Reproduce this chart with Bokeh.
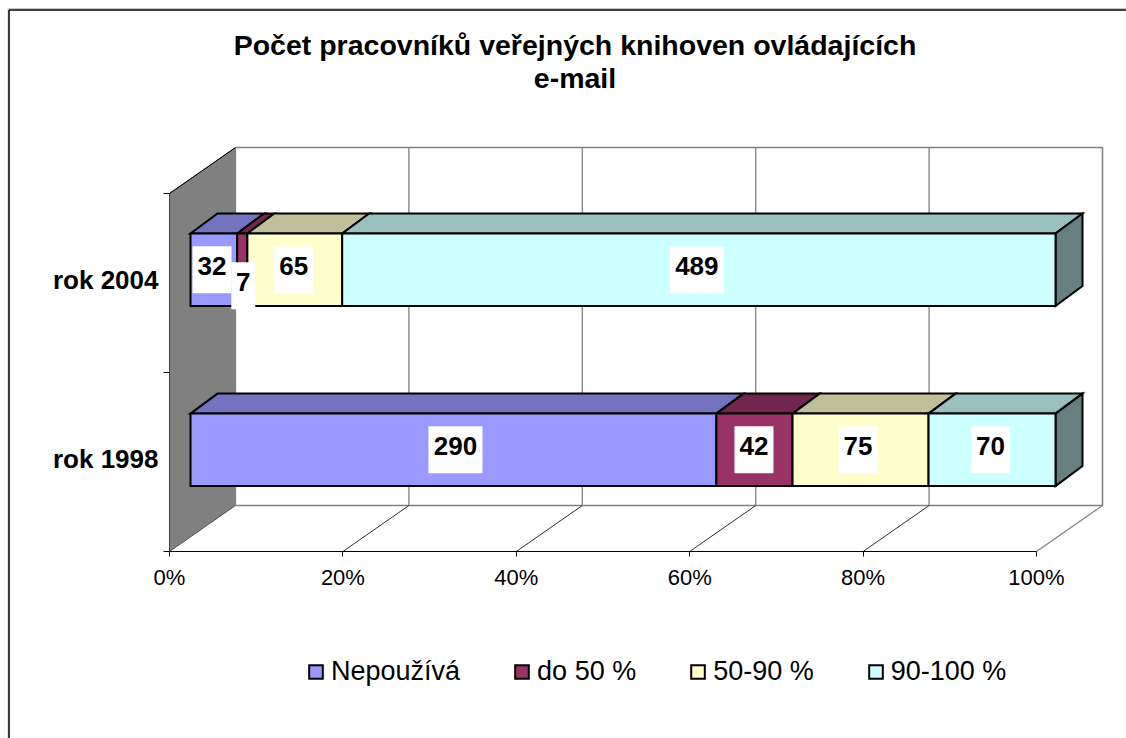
from bokeh.plotting import figure
from bokeh.models import LinearAxis, FixedTicker, Legend, LegendItem, ColumnDataSource
from bokeh.core.properties import value
from bokeh.embed import file_html
from bokeh.resources import INLINE
import numpy as np

# ---- data ----
categories = ["rok 1998", "rok 2004"]
series_names = ["Nepoužívá", "do 50 %", "50-90 %", "90-100 %"]
nepouziva = [290, 32]
do_50 = [42, 7]
p50_90 = [75, 65]
p90_100 = [70, 489]
x_ticks = [0, 20, 40, 60, 80, 100]
title_lines = ["Počet pracovníků veřejných knihoven ovládajících", "e-mail"]

front_colors = ["#9999FF", "#993366", "#FFFFCC", "#CCFFFF"]
top_colors = ["#7373BF", "#73264D", "#BFBF99", "#99BFBF"]
side_color = "#668080"
FONT = "Liberation Sans"

# ---- layout (screen scale) ----
W, H = 1126, 738
PX = 8.67     # px per percent
PY = 179.0    # px per category band
X0, Y0 = 169, 551   # frame px of (0 %, floor front)
WALL_DX, WALL_DY = 66 / PX, 46 / PY
BAR_DX, BAR_DY = 27 / PX, 20 / PY
BAR_X0, BAR_SCALE = 21 / PX, 865 / 867
BAR_H = 72.5 / PY
CENTERS = [0.568, 1.574]

def px_x(v): return (v - X0) / PX
def px_y(v): return (Y0 - v) / PY

p = figure(width=W, height=H, output_backend="svg", toolbar_location=None,
           x_axis_type=None, y_axis_type=None, min_border=0,
           x_range=(px_x(0), px_x(W)), y_range=(px_y(H), px_y(0)))
p.grid.visible = False
p.outline_line_color = None
p.background_fill_color = "white"

# outer chart border (top and left)
p.segment([px_x(7.5), px_x(7.5)], [px_y(8), px_y(8)], [px_x(W), px_x(7.5)], [px_y(8), px_y(H)],
          line_color="#C8C8C8", line_width=1)
p.segment([px_x(8.5), px_x(8.5)], [px_y(9.5), px_y(9.5)], [px_x(W), px_x(8.5)], [px_y(9.5), px_y(H)],
          line_color="black", line_width=1.5)

# walls
wx, wy = WALL_DX, WALL_DY
p.patch([0, wx, wx, 0], [2, 2 + wy, wy, 0], fill_color="#808080", line_color="#505050", line_width=1)
p.segment([0], [2], [wx], [2 + wy], line_color="black", line_width=1)
p.line([wx, 100 + wx, 100 + wx, wx], [2 + wy, 2 + wy, wy, wy], line_color="#808080", line_width=1.3)
gx = np.array(x_ticks, dtype=float)
p.segment(gx + wx, [wy] * 6, gx + wx, [2 + wy] * 6, line_color="#808080", line_width=1.3)
p.segment(gx[1:-1], [0] * 4, gx[1:-1] + wx, [wy] * 4, line_color="#303030", line_width=1)
p.segment([100], [0], [100 + wx], [wy], line_color="#808080", line_width=1.2)

# axes
xaxis = LinearAxis(ticker=FixedTicker(ticks=x_ticks), fixed_location=0, bounds=(0, 100),
                   major_label_overrides={t: f"{t}%" for t in x_ticks})
xaxis.major_tick_in = 0
xaxis.major_tick_out = 5
xaxis.minor_tick_line_color = None
xaxis.axis_line_color = "black"
xaxis.major_tick_line_color = "black"
xaxis.major_label_text_font = FONT
xaxis.major_label_text_font_size = "22px"
xaxis.major_label_text_color = "black"
xaxis.major_label_standoff = 8
p.add_layout(xaxis, "below")

yaxis = LinearAxis(ticker=FixedTicker(ticks=[0, 1, 2]), fixed_location=0, bounds=(0, 2),
                   major_label_text_color=None,
                   major_label_overrides={0: " ", 1: " ", 2: " "})
yaxis.major_tick_in = 0
yaxis.major_tick_out = 6
yaxis.minor_tick_line_color = None
yaxis.axis_line_color = "#404040"
yaxis.major_tick_line_color = "black"
p.add_layout(yaxis, "left")

ylab = LinearAxis(ticker=FixedTicker(ticks=[0.516, 1.516]), fixed_location=0,
                  major_label_overrides={0.516: categories[0], 1.516: categories[1]})
ylab.axis_line_color = None
ylab.major_tick_line_color = None
ylab.minor_tick_line_color = None
ylab.major_tick_out = 0
ylab.major_tick_in = 0
ylab.major_label_standoff = 11
ylab.major_label_text_font = FONT
ylab.major_label_text_font_size = "26px"
ylab.major_label_text_font_style = "bold"
ylab.major_label_text_color = "black"
p.add_layout(ylab, "left")

# bars
rows = np.array([nepouziva, do_50, p50_90, p90_100], dtype=float)
shares = rows / rows.sum(axis=0) * 100
left = np.vstack([np.zeros(2), np.cumsum(shares, axis=0)[:-1]]) * BAR_SCALE + BAR_X0
right = np.cumsum(shares, axis=0) * BAR_SCALE + BAR_X0
tops = np.array(CENTERS) + BAR_H / 2
bots = np.array(CENTERS) - BAR_H / 2
STROKE = dict(line_color="black", line_width=2, line_join="miter")
items = []
for c in (1, 0):  # far band first
    for s in range(4):
        p.patch([left[s, c], right[s, c], right[s, c] + BAR_DX, left[s, c] + BAR_DX],
                [tops[c], tops[c], tops[c] + BAR_DY, tops[c] + BAR_DY],
                fill_color=top_colors[s], **STROKE)
    p.patch([right[3, c], right[3, c] + BAR_DX, right[3, c] + BAR_DX, right[3, c]],
            [bots[c], bots[c] + BAR_DY, tops[c] + BAR_DY, tops[c]],
            fill_color=side_color, **STROKE)
for s in range(4):
    r = p.quad(left=left[s], right=right[s], bottom=bots, top=tops,
               fill_color=front_colors[s], **STROKE)
    items.append(LegendItem(label=series_names[s], renderers=[r]))

# data labels
LABEL_DX = np.array([[2.0, -1.8], [-0.5, 1.0], [-2.5, -1.0], [-1.5, -2.0]]) / PX
LABEL_DY = np.array([[0, 0], [0, -16], [0, 0], [0, 0]]) / PY
lx, ly, lt, lw = [], [], [], []
for c in (0, 1):
    for s in range(4):
        txt = str(int(rows[s, c]))
        lx.append((left[s, c] + right[s, c]) / 2 + LABEL_DX[s, c])
        ly.append(CENTERS[c] + LABEL_DY[s, c])
        lt.append(txt)
        lw.append(9 + 15 * len(txt))
src = ColumnDataSource(dict(x=lx, y=ly, t=lt, w=lw))
p.rect("x", "y", width="w", height=47, width_units="screen", height_units="screen",
       source=src, fill_color="white", line_color=None)
p.text("x", "y", text="t", source=src, text_font=value(FONT), text_font_style="bold",
       text_font_size="26px", text_color="black", text_align="center", text_baseline="middle",
       y_offset=-4)

# title
p.text([px_x(574.5)] * 2, [px_y(44), px_y(77)], text=title_lines,
       text_font=value(FONT), text_font_style="bold", text_font_size="28.5px",
       text_color="black", text_align="center", text_baseline="middle")

# legend
legend = Legend(items=items, orientation="horizontal", location=(307, 51),
                spacing=53, padding=0, margin=0, border_line_color=None,
                background_fill_alpha=0, glyph_width=17, glyph_height=17,
                label_standoff=7, label_text_font=FONT, label_text_font_size="27px",
                label_text_color="black")
p.add_layout(legend, "center")

open("out.html", "w").write(file_html(p, INLINE))
